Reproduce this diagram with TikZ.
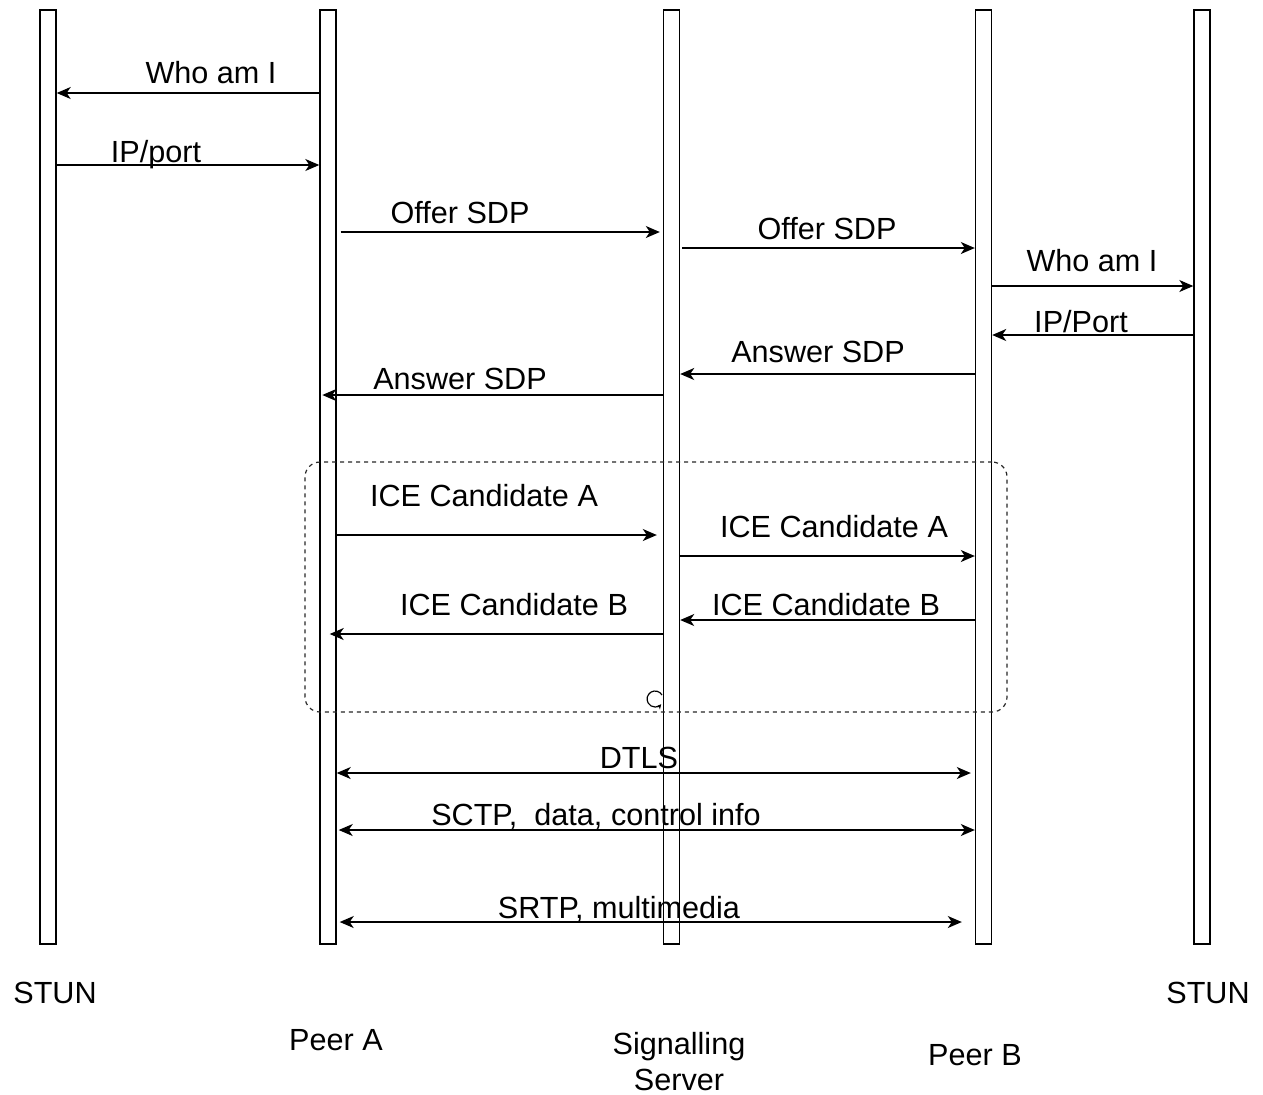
\documentclass[tikz,border=0pt]{standalone}
\usepackage{fontspec}
\setmainfont{Liberation Sans}
\usetikzlibrary{arrows.meta}

\begin{document}
\begin{tikzpicture}[x=0.5pt, y=-0.5pt,
    every node/.style={font=\fontsize{15.3}{18}\selectfont},
    lifeline/.style={draw, line width=0.7pt, inner sep=0, minimum width=8pt, minimum height=467pt},
    msg/.style={-{Stealth[length=7pt, width=6pt, inset=2pt]}, line width=0.7pt},
    duplex/.style={{Stealth[length=7pt, width=6pt, inset=2pt]}-{Stealth[length=7pt, width=6pt, inset=2pt]}, line width=0.7pt},
    lbl/.style={anchor=base, inner sep=0},
    group/.style={draw=black!85, line width=0.6pt, dash pattern=on 2pt off 2pt,
        rounded corners=7.5pt, inner sep=0, minimum width=351pt, minimum height=125pt}]
    \useasboundingbox (0,0) rectangle (1263,1094);

    % Lifelines
    \node[lifeline] (stunA) at (48,477) {};
    \node[lifeline] (peerA) at (328,477) {};
    \node[lifeline] (server) at (671.5,477) {};
    \node[lifeline] (peerB) at (983.5,477) {};
    \node[lifeline] (stunB) at (1202,477) {};

    % ICE exchange group
    \node[group] (iceGroup) at (656,587) {};
    \draw[line width=0.6pt, -{Stealth[length=2.5pt, width=2.5pt]}] (662,695) arc[start angle=30, end angle=320, radius=4pt];

    % Peer A and its STUN server
    \draw[msg] (peerA.west |- 0,93) -- (stunA.east |- 0,93);
    \node[lbl] (whoA) at (211,83) {Who am I};
    \draw[msg] (stunA.east |- 0,165) -- (peerA.west |- 0,165);
    \node[lbl] (ipA) at (156,162) {IP/port};

    % Offer
    \draw[msg, shorten <=2pt, shorten >=1.5pt] (peerA.east |- 0,232) -- (server.west |- 0,232);
    \node[lbl] (offerA) at (460,223) {Offer SDP};
    \draw[msg, shorten <=1pt] (server.east |- 0,248) -- (peerB.west |- 0,248);
    \node[lbl] (offerB) at (827,239) {Offer SDP};

    % Peer B and its STUN server
    \draw[msg] (peerB.east |- 0,286) -- (stunB.west |- 0,286);
    \node[lbl] (whoB) at (1092,271) {Who am I};
    \draw[msg] (stunB.west |- 0,335) -- (peerB.east |- 0,335);
    \node[lbl] (ipB) at (1081,332) {IP/Port};

    % Answer
    \draw[msg] (peerB.west |- 0,374) -- (server.east |- 0,374);
    \node[lbl] (answerB) at (818,362) {Answer SDP};
    \draw[msg, shorten >=1.5pt] (server.west |- 0,395) -- (peerA.west |- 0,395);
    \node[lbl] (answerA) at (460,389) {Answer SDP};

    % ICE candidates
    \draw[msg, shorten >=3pt] (peerA.east |- 0,535) -- (server.west |- 0,535);
    \node[lbl] (iceA1) at (484,506) {ICE Candidate A};
    \draw[msg] (server.east |- 0,556) -- (peerB.west |- 0,556);
    \node[lbl] (iceA2) at (834,537) {ICE Candidate A};
    \draw[msg] (peerB.west |- 0,620) -- (server.east |- 0,620);
    \node[lbl] (iceB2) at (826,615) {ICE Candidate B};
    \draw[msg, shorten >=-3.5pt] (server.west |- 0,634) -- (peerA.east |- 0,634);
    \node[lbl] (iceB1) at (514,615) {ICE Candidate B};

    % Peer to peer
    \draw[duplex, shorten >=2pt] (peerA.east |- 0,773) -- (peerB.west |- 0,773);
    \node[lbl] (dtls) at (639,768) {DTLS};
    \draw[duplex, shorten <=1pt] (peerA.east |- 0,830) -- (peerB.west |- 0,830);
    \node[lbl] (sctp) at (596,825) {SCTP,\ \ data, control info};
    \draw[duplex, shorten <=1.5pt, shorten >=6.5pt] (peerA.east |- 0,922) -- (peerB.west |- 0,922);
    \node[lbl] (srtp) at (619,918) {SRTP, multimedia};

    % Names
    \node[lbl] (stunAName) at (55,1003) {STUN};
    \node[lbl] (peerAName) at (336,1050) {Peer A};
    \node[lbl, align=center] (serverName) at (679,1090) {Signalling\\Server};
    \node[lbl] (peerBName) at (975,1065) {Peer B};
    \node[lbl] (stunBName) at (1208,1003) {STUN};
\end{tikzpicture}
\end{document}
